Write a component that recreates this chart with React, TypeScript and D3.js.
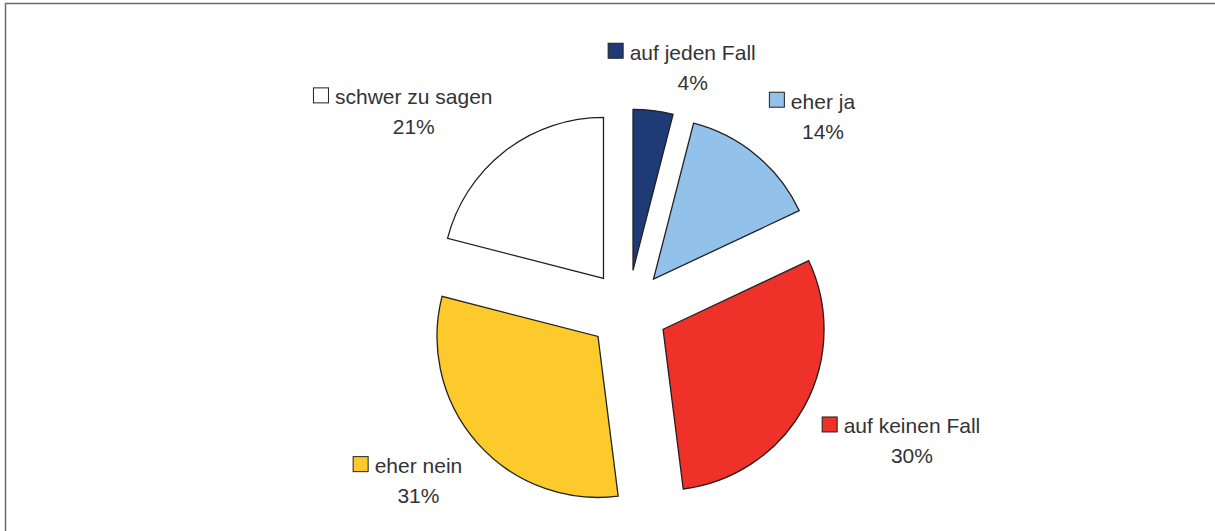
import { useRef, useEffect } from 'react'
import * as d3 from 'd3'

const categories = ['auf jeden Fall', 'eher ja', 'auf keinen Fall', 'eher nein', 'schwer zu sagen']
const values = [4, 14, 30, 31, 21]
const colors = ['#1f3b76', '#92c1e9', '#ee3129', '#fdca2c', '#ffffff']

const W = 1215
const H = 531

export default function App() {
    const svgRef = useRef<SVGSVGElement>(null)

    useEffect(() => {
        if (!svgRef.current) return
        const svg = d3.select(svgRef.current)
        svg.selectAll('*').remove()

        // frame (top + left edges only)
        svg.append('line').attr('x1', 5).attr('x2', W).attr('y1', 3.5).attr('y2', 3.5)
            .style('stroke', '#6b6b6b').style('stroke-width', 1.5)
        svg.append('line').attr('x1', 5.5).attr('x2', 5.5).attr('y1', 3).attr('y2', H)
            .style('stroke', '#6b6b6b').style('stroke-width', 1.5)

        const cx = 628
        const cy = 310
        const radius = 161
        const explode = 40
        const gap = 20

        const data = categories.map((c, i) => ({ name: c, value: values[i], color: colors[i] }))
        const pie = d3.pie<any>().value(d => d.value).sort(null)
        const arcs = pie(data)
        const arc = d3.arc<any>().innerRadius(0).outerRadius(radius)

        const g = svg.append('g').attr('transform', `translate(${cx},${cy})`)

        const dir = (a: any) => {
            const mid = (a.startAngle + a.endAngle) / 2
            return [Math.sin(mid), -Math.cos(mid)]
        }

        // slices
        g.selectAll('.slice')
            .data(arcs)
            .enter()
            .append('path')
            .attr('d', arc)
            .attr('transform', d => {
                const [dx, dy] = dir(d)
                return `translate(${dx * explode},${dy * explode})`
            })
            .style('fill', d => d.data.color)
            .style('stroke', '#231f20')
            .style('stroke-width', 1.3)
            .style('stroke-linejoin', 'miter')

        // labels
        const font = '"Liberation Sans", Arial, sans-serif'
        const fontSize = 21
        const sq = 15
        const sqGap = 7
        const boxH = 48
        const clamp = (v: number) => Math.max(-1, Math.min(1, v))

        arcs.forEach(a => {
            const [dx, dy] = dir(a)
            const lg = g.append('g')
            const txt = lg.append('text')
                .style('font-family', font)
                .style('font-size', `${fontSize}px`)
                .style('fill', '#333333')
                .text(a.data.name)
            const tw = (txt.node() as SVGTextElement).getComputedTextLength()
            const boxW = sq + sqGap + tw

            const px = dx * (radius + explode + gap) + clamp(dx * 2.8) * boxW / 2
            const py = dy * (radius + explode + gap) + clamp(dy * 2.8) * boxH / 2
            const left = px - boxW / 2
            const top = py - boxH / 2

            lg.append('rect')
                .attr('x', left + 0.5).attr('y', top + 0.5)
                .attr('width', sq).attr('height', sq)
                .style('fill', a.data.color)
                .style('stroke', '#231f20')
                .style('stroke-width', 1)
            txt.attr('x', left + sq + sqGap).attr('y', top + 17)

            lg.append('text')
                .attr('x', left + sq + sqGap + tw / 2)
                .attr('y', top + 47)
                .attr('text-anchor', 'middle')
                .style('font-family', font)
                .style('font-size', `${fontSize}px`)
                .style('fill', '#333333')
                .text(`${a.data.value}%`)
        })
    }, [])

    return (
        <svg
            ref={svgRef}
            width={W}
            height={H}
            style={{ position: 'absolute', left: 0, top: 0, background: '#ffffff' }}
        />
    )
}
